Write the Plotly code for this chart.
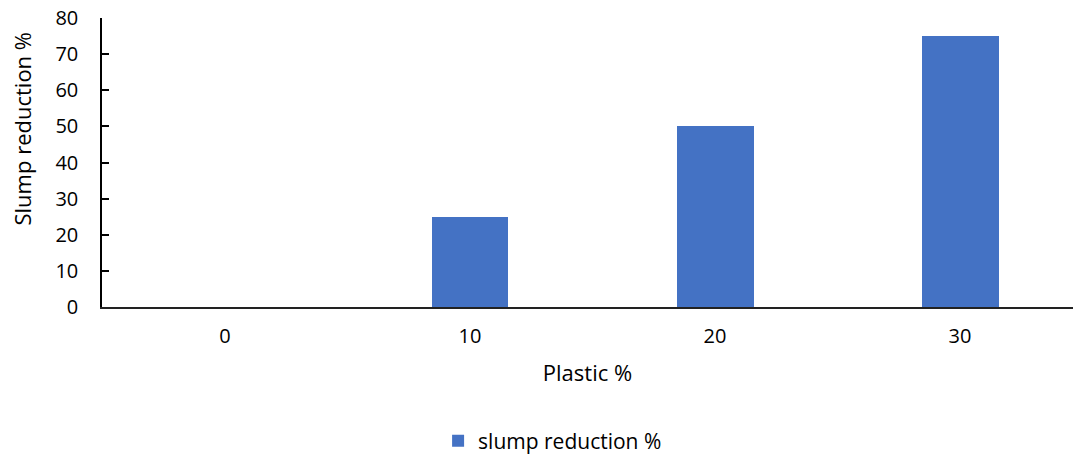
import plotly.graph_objects as go

plastic_pct = ["0", "10", "20", "30"]
slump_reduction = [0, 25, 50, 75]
y_ticks = [0, 10, 20, 30, 40, 50, 60, 70, 80]

FONT = "Open Sans"

fig = go.Figure(
    go.Bar(
        x=plastic_pct,
        y=slump_reduction,
        name="slump reduction %",
        marker=dict(color="#4472C4", line=dict(width=0)),
        width=0.314,
        showlegend=True,
    )
)

fig.update_layout(
    width=1073,
    height=457,
    margin=dict(l=102, r=0, t=18, b=150),
    paper_bgcolor="white",
    plot_bgcolor="white",
    font=dict(family=FONT, size=20, color="black"),
    xaxis=dict(
        type="category",
        range=[-0.502, 3.461],
        automargin=False,
        showline=True,
        linecolor="#222222",
        linewidth=2,
        ticks="",
        showgrid=False,
        ticklabelstandoff=10,
        title=dict(text="Plastic %", font=dict(family=FONT, size=22), standoff=18),
    ),
    yaxis=dict(
        range=[0, 80],
        tickvals=y_ticks,
        automargin=False,
        showline=True,
        linecolor="black",
        linewidth=1.5,
        ticks="inside",
        ticklen=7,
        tickwidth=1.5,
        tickcolor="black",
        showgrid=False,
        zeroline=False,
        ticklabelstandoff=18,
    ),
    legend=dict(
        orientation="h",
        xref="container",
        yref="container",
        x=0.515,
        xanchor="center",
        y=0.035,
        yanchor="middle",
        font=dict(family=FONT, size=21),
        itemwidth=30,
    ),
    bargap=0,
)

# vertical axis title, sitting a little above the plot's middle
fig.add_annotation(
    text="Slump reduction %",
    textangle=-90,
    xref="paper",
    yref="paper",
    x=-0.0824,
    y=0.6176,
    xanchor="center",
    yanchor="middle",
    showarrow=False,
    font=dict(family=FONT, size=22, color="black"),
)

# keep the page free of scrollbars so the full figure is visible
fig.write_html(
    "out.html",
    post_script="document.body.style.margin='0';document.body.style.overflow='hidden';",
)
